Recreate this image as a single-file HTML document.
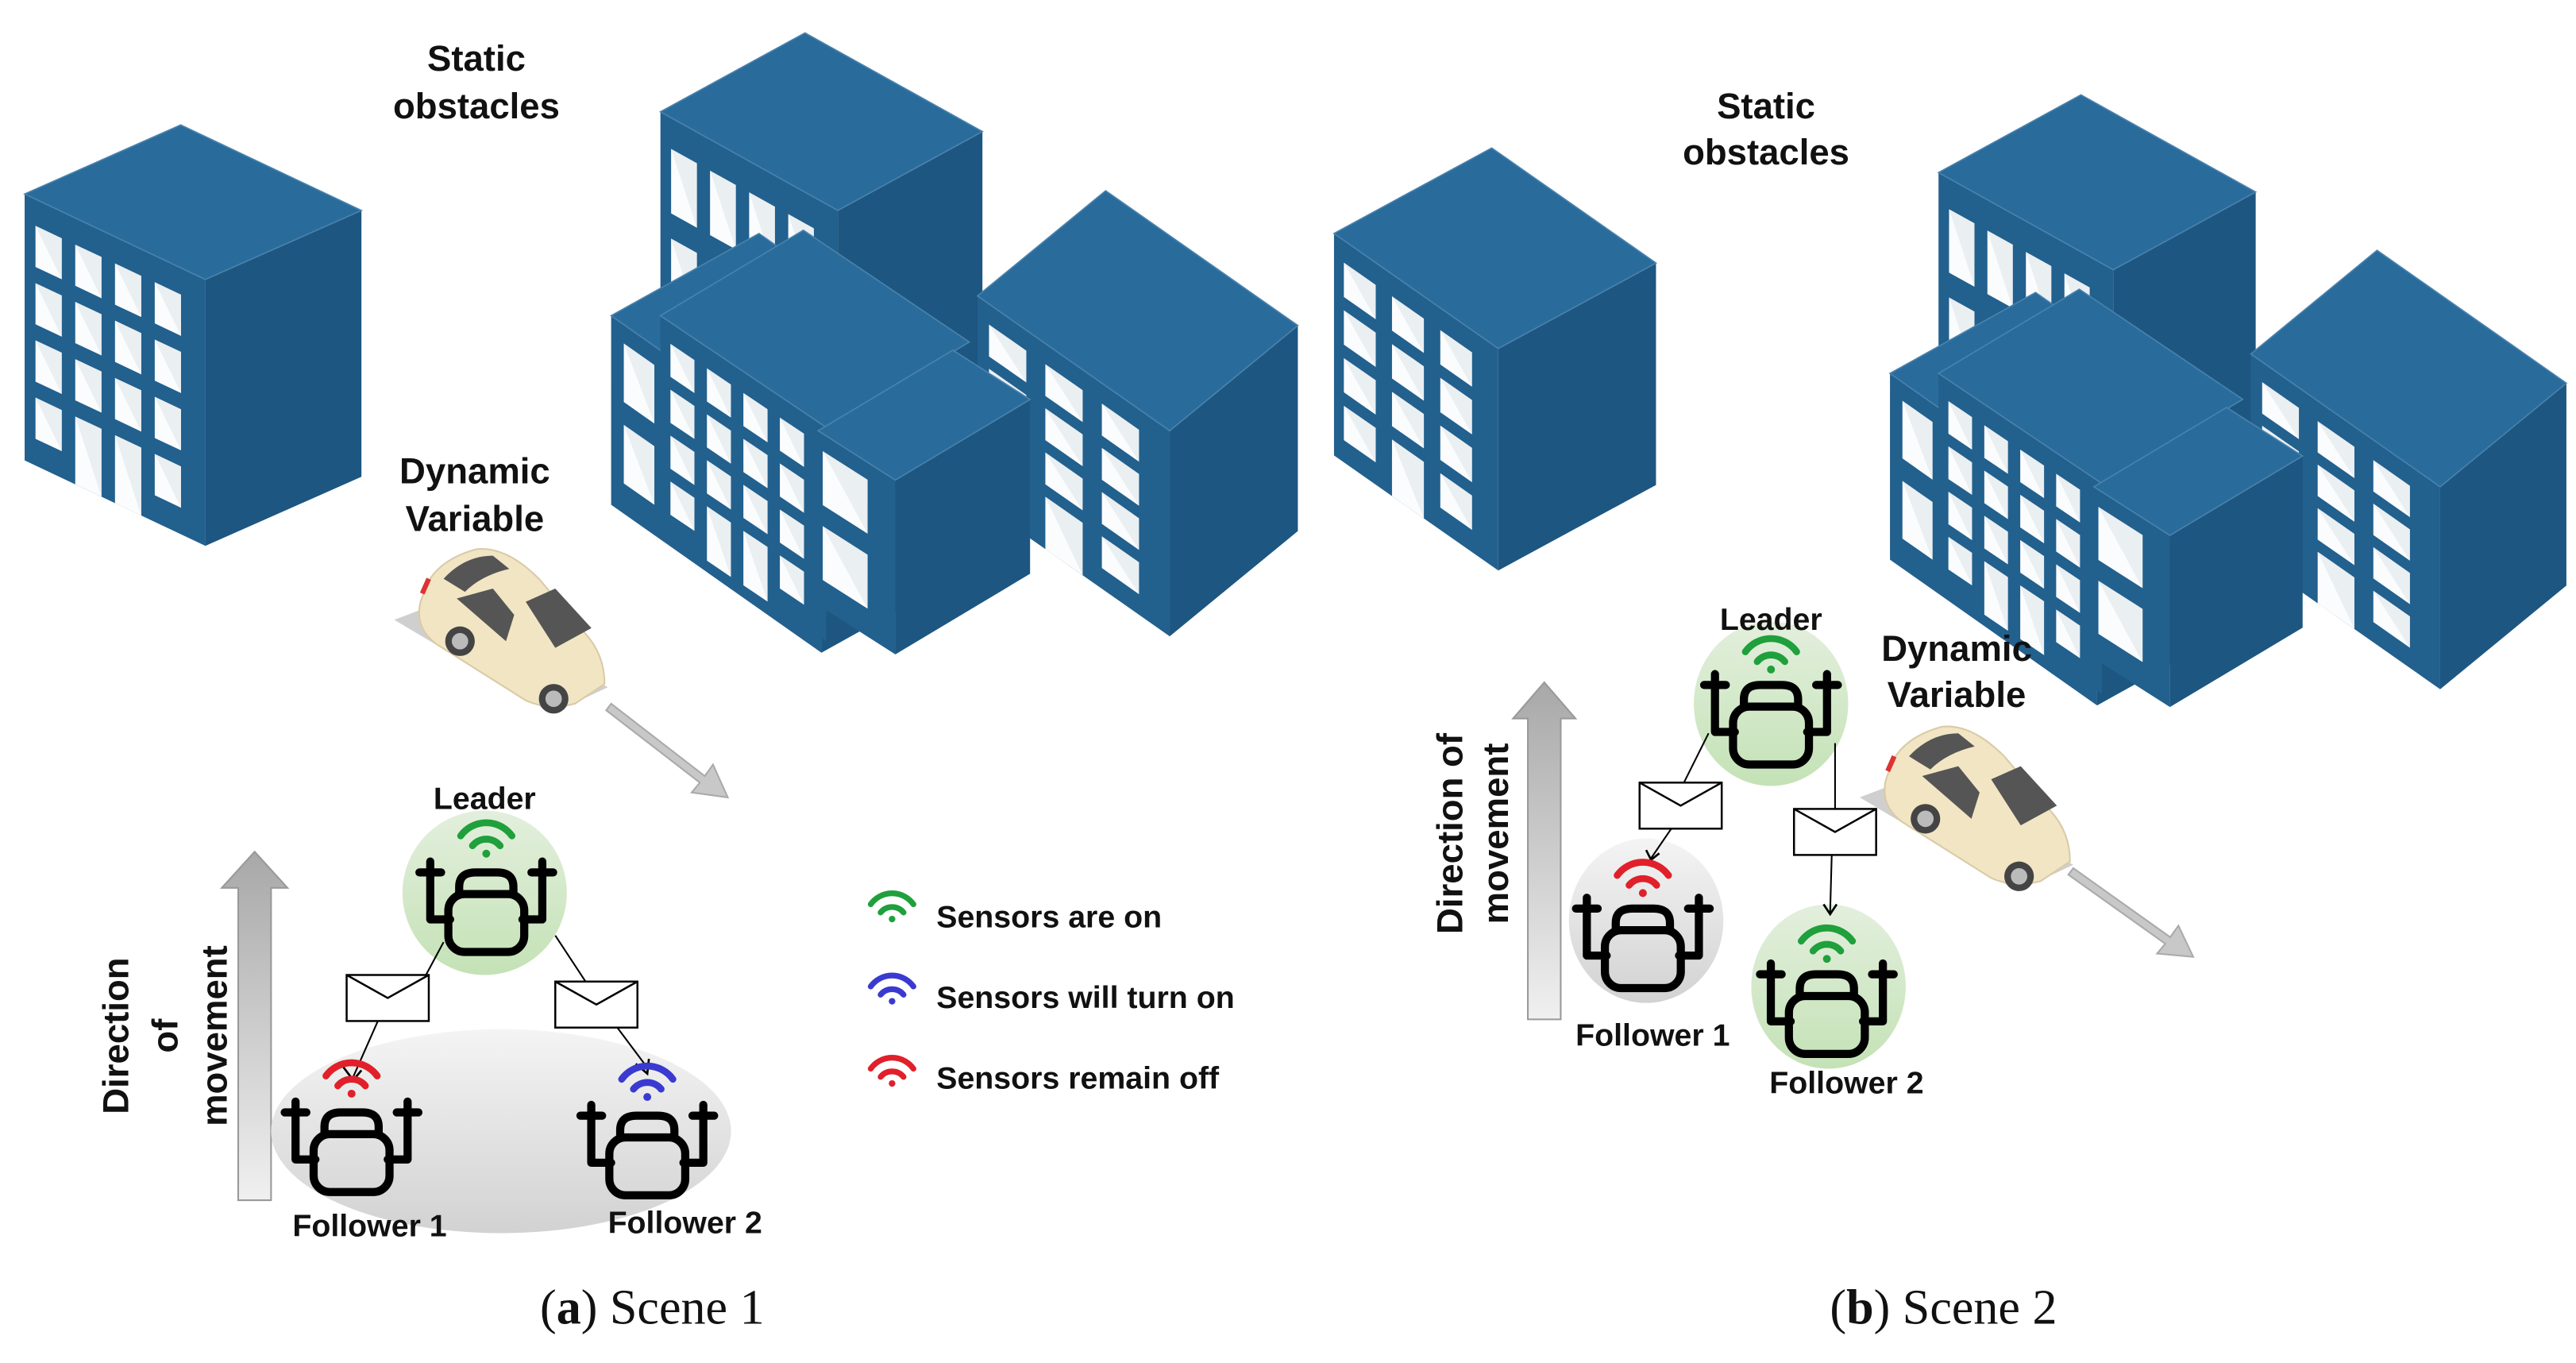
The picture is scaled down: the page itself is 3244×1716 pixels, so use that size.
<!DOCTYPE html>
<html><head><meta charset="utf-8"><style>
html,body{margin:0;padding:0;background:#fff;}
svg{display:block;}
text{font-family:"Liberation Sans",Arial,sans-serif;font-weight:bold;fill:#111;}
.cap{font-family:"Liberation Serif",serif;font-weight:normal;}
</style></head><body>
<svg id="s" width="3244" height="1716" viewBox="0 0 1568 829" preserveAspectRatio="none" xmlns="http://www.w3.org/2000/svg">
<defs>
<linearGradient id="gg" x1="0" y1="0" x2="0" y2="1"><stop offset="0" stop-color="#e3efdd"/><stop offset="1" stop-color="#c4e2b6"/></linearGradient>
<linearGradient id="gy" x1="0" y1="0" x2="0" y2="1"><stop offset="0" stop-color="#f4f4f4"/><stop offset="1" stop-color="#d2d2d2"/></linearGradient>
<linearGradient id="ga" x1="0" y1="0" x2="0" y2="1"><stop offset="0" stop-color="#a8a8a8"/><stop offset="1" stop-color="#f0f0f0"/></linearGradient>
<g id="robot" fill="none" stroke="#000" stroke-width="4.5" stroke-linecap="round" stroke-linejoin="round" transform="scale(1.1)">
<path d="M-31,-20 V12 H-20 M31,-20 V12 H20 M-37,-14 H-25 M25,-14 H37"/>
<rect x="-21" y="-2" width="42" height="32" rx="9"/>
<path d="M-15,-2 V-6 Q-15,-14 -6,-14 H6 Q15,-14 15,-6 V-2"/>
</g>
<g id="car">
<polygon points="2,47 36,34 132,88 98,104" fill="#cfcfcf"/>
<path d="M22,25 Q30,10 52,4 Q70,2 90,22 L118,55 Q130,68 130,86 L112,98 Q95,102 82,96 L28,62 Q14,52 18,36 Z" fill="#f1e5c3" stroke="#d8cba6" stroke-width="1"/>
<path d="M32,22 Q45,8 62,8 L72,16 Q55,20 45,30 Z" fill="#555"/>
<path d="M40,34 L62,28 L75,44 L70,60 Z" fill="#555"/>
<path d="M82,36 L100,28 L122,52 L100,64 Z" fill="#555"/>
<circle cx="42" cy="60" r="9" fill="#444"/><circle cx="42" cy="60" r="5" fill="#bbb"/>
<circle cx="99" cy="95" r="9" fill="#444"/><circle cx="99" cy="95" r="5" fill="#bbb"/>
<path d="M19,31 L23,22" stroke="#d33" stroke-width="3"/>
</g>
<g id="env"><rect x="0" y="0" width="50" height="28" fill="#fff" stroke="#000" stroke-width="1.2"/><path d="M0,0 L25,14 L50,0" fill="none" stroke="#000" stroke-width="1.2"/></g>
</defs>
<g id="bld"></g>

<text x="290" y="43" font-size="22" text-anchor="middle">Static</text>
<text x="290" y="72" font-size="22" text-anchor="middle">obstacles</text>
<text x="289" y="294" font-size="22" text-anchor="middle">Dynamic</text>
<text x="289" y="323" font-size="22" text-anchor="middle">Variable</text>
<use href="#car" x="238" y="330"/>
<path d="M372,428 L429,472 L434,465 L443,485 L421,482 L426,476 L369,432 Z" fill="#c8c8c8" stroke="#aaa" stroke-width="1"/>

<path d="M145,730 V540 H135 L155,518 L175,540 H165 V730 Z" fill="url(#ga)" stroke="#999" stroke-width="1"/>
<text font-size="22" text-anchor="middle" transform="translate(78,630) rotate(-90)">Direction</text>
<text font-size="22" text-anchor="middle" transform="translate(108,630) rotate(-90)">of</text>
<text font-size="22" text-anchor="middle" transform="translate(138,630) rotate(-90)">movement</text>

<ellipse cx="305" cy="688" rx="140" ry="62" fill="url(#gy)"/>
<ellipse cx="295" cy="543" rx="50" ry="50" fill="url(#gg)"/>
<text x="295" y="492" font-size="19" text-anchor="middle">Leader</text>
<use href="#robot" x="296" y="546"/>
<use href="#robot" x="214" y="692"/>
<use href="#robot" x="394" y="694"/>
<text x="225" y="752" font-size="19" text-anchor="middle">Follower 1</text>
<text x="417" y="750" font-size="19" text-anchor="middle">Follower 2</text>
<path d="M270,573 L248,614 M230,621 L215,655 M338,569 L365,610 M375,624 L393,648" stroke="#000" stroke-width="1" fill="none"/>
<path d="M209,649 L215,657 L220,651 M387,647 L394,653 L395,644" stroke="#000" stroke-width="1.3" fill="none"/>
<use href="#env" x="211" y="593"/>
<use href="#env" x="338" y="597"/>

<text x="570" y="564" font-size="19">Sensors are on</text>
<text x="570" y="613" font-size="19">Sensors will turn on</text>
<text x="570" y="662" font-size="19">Sensors remain off</text>

<text x="1075" y="72" font-size="22" text-anchor="middle">Static</text>
<text x="1075" y="100" font-size="22" text-anchor="middle">obstacles</text>
<use href="#car" x="1130" y="438"/>
<path d="M1262,528 L1321,570 L1326,563 L1335,582 L1313,580 L1318,574 L1259,532 Z" fill="#c8c8c8" stroke="#aaa" stroke-width="1"/>
<path d="M930,620 V437 H921 L940,415 L959,437 H950 V620 Z" fill="url(#ga)" stroke="#999" stroke-width="1"/>
<text font-size="22" text-anchor="middle" transform="translate(890,507) rotate(-90)">Direction of</text>
<text font-size="22" text-anchor="middle" transform="translate(918,507) rotate(-90)">movement</text>
<ellipse cx="1078" cy="428" rx="47" ry="50" fill="url(#gg)"/>
<ellipse cx="1002" cy="560" rx="47" ry="50" fill="url(#gy)"/>
<ellipse cx="1113" cy="600" rx="47" ry="50" fill="url(#gg)"/>
<text x="1078" y="383" font-size="19" text-anchor="middle">Leader</text>
<text x="1006" y="636" font-size="19" text-anchor="middle">Follower 1</text>
<text x="1124" y="665" font-size="19" text-anchor="middle">Follower 2</text>
<use href="#robot" x="1078" y="432"/>
<use href="#robot" x="1000" y="568"/>
<use href="#robot" x="1112" y="608"/>
<path d="M1040,446 L1025,476 M1018,503 L1005,522 M1117,452 L1117,492 M1115,519 L1114,555" stroke="#000" stroke-width="1" fill="none"/>
<path d="M1002,517 L1005,523 L1010,519 M1110,550 L1114,556 L1118,550" stroke="#000" stroke-width="1.3" fill="none"/>
<use href="#env" x="998" y="476"/>
<use href="#env" x="1092" y="492"/>

<text x="397" y="805" font-size="30" text-anchor="middle" class="cap">(<tspan font-weight="bold">a</tspan>) Scene 1</text>
<text x="1183" y="805" font-size="30" text-anchor="middle" class="cap">(<tspan font-weight="bold">b</tspan>) Scene 2</text>
<g id="top"></g>
<g id="wifi"></g>
</svg>
<script>
var NS="http://www.w3.org/2000/svg";
function el(p,t,a){var e=document.createElementNS(NS,t);for(var k in a)e.setAttribute(k,a[k]);p.appendChild(e);return e;}
var B=document.getElementById("bld");
function P(a){return a.map(function(p){return p[0].toFixed(1)+","+p[1].toFixed(1)}).join(" ");}
function bld(g,L,F,R,h,rows,cols,doors){
 var T=[L[0]+R[0]-F[0],L[1]+R[1]-F[1]];
 el(g,"polygon",{points:P([L,F,[F[0],F[1]+h],[L[0],L[1]+h]]),fill:"#22608e"});
 el(g,"polygon",{points:P([F,R,[R[0],R[1]+h],[F[0],F[1]+h]]),fill:"#1d5680"});
 el(g,"polygon",{points:P([L,F,R,T]),fill:"#296c9c",stroke:"#4a82ad","stroke-width":0.8});
 var u=[F[0]-L[0],F[1]-L[1]];
 for(var r=0;r<rows;r++)for(var c=0;c<cols;c++){
  var s0=0.06+c*(0.88/cols), s1=s0+0.88/cols*0.66, t0=0.1+r*(0.86/rows), t1=t0+0.86/rows*0.72;
  if(doors&&r==rows-1&&c>0&&c<cols-1)t1=1.0;
  var q=function(s,t){return [L[0]+u[0]*s,L[1]+u[1]*s+h*t];};
  el(g,"polygon",{points:P([q(s0,t0),q(s1,t0),q(s1,t1),q(s0,t1)]),fill:"#fbfcfd"});
  el(g,"polygon",{points:P([q(s0,t0),q(s1,t0),q(s1,t1)]),fill:"#d9e1e8",opacity:0.5});
 }
}
function cluster(tr){
 var g=el(B,"g",{transform:tr});
 bld(g,[402,68],[510,128],[598,80],190,3,4,false);
 bld(g,[372,192],[500,282],[590,232],115,2,4,false);
 bld(g,[402,192],[503,260],[590,208],130,4,4,true);
 bld(g,[595,180],[712,262],[790,198],125,4,3,true);
 bld(g,[498,262],[545,292],[627,243],106,2,1,false);
}
bld(B,[15,118],[125,170],[220,128],162,4,4,true);
cluster("");
bld(B,[812,142],[912,212],[1008,160],135,4,3,true);
cluster("translate(784,38) scale(0.985)");
var TOP=document.getElementById("top");
var t1=el(TOP,"text",{x:1191,y:402,"font-size":22,"text-anchor":"middle"});t1.textContent="Dynamic";
var t2=el(TOP,"text",{x:1191,y:430,"font-size":22,"text-anchor":"middle"});t2.textContent="Variable";
var W=document.getElementById("wifi");
function wifi(p,x,y,c,sc){
 var g=el(p,"g",{transform:"translate("+x+","+y+") scale("+sc+")",fill:"none",stroke:c,"stroke-width":3.5,"stroke-linecap":"round"});
 el(g,"path",{d:"M-13,-3 A16,16 0 0 1 13,-3"});
 el(g,"path",{d:"M-7,2 A9,9 0 0 1 7,2"});
 el(g,"circle",{cx:0,cy:6,r:2,fill:c,stroke:"none"});
}
wifi(W,543,553,"#1fa03c",1);wifi(W,543,603,"#3a3ad0",1);wifi(W,543,653,"#e0202a",1);
wifi(W,296,512,"#1fa03c",1.2);wifi(W,214,658,"#e0202a",1.2);wifi(W,394,660,"#3a3ad0",1.2);
wifi(W,1078,400,"#1fa03c",1.2);wifi(W,1000,536,"#e0202a",1.2);wifi(W,1112,576,"#1fa03c",1.2);
</script>
</body></html>
